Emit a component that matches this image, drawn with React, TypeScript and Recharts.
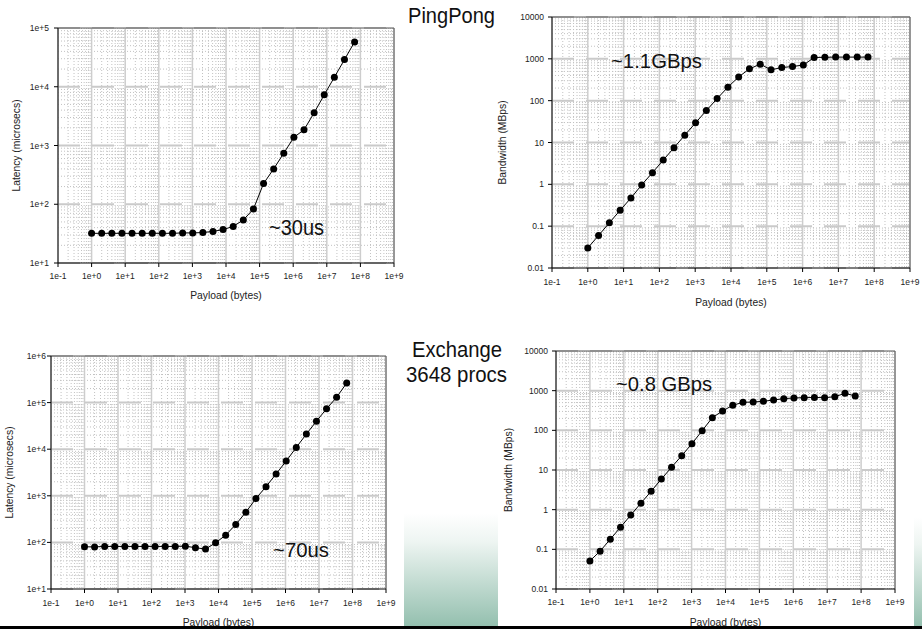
import React from 'react'
import { LineChart, Line, XAxis, YAxis, CartesianGrid } from 'recharts'

// message sizes, 2^0 .. 2^26 bytes
const payloadBytes = [
  1, 2, 4, 8, 16, 32, 64, 128, 256, 512, 1024, 2048, 4096, 8192, 16384, 32768, 65536,
  131072, 262144, 524288, 1048576, 2097152, 4194304, 8388608, 16777216, 33554432, 67108864,
]

const pingPongLatency = [
  32, 32, 32, 32, 32, 32, 32, 32, 32, 32.5, 32.5, 33, 34.5, 37, 42, 54, 83,
  225, 400, 740, 1380, 1850, 3600, 7300, 14500, 29000, 58000,
]
const pingPongBandwidth = [
  0.03, 0.06, 0.12, 0.24, 0.47, 0.97, 1.9, 3.8, 7.5, 15, 29.5, 58, 112, 210, 370, 576, 746,
  546, 620, 655, 710, 1075, 1090, 1100, 1100, 1100, 1100,
]
const exchangeLatency = [
  80.5, 80, 82, 82, 82, 82, 82, 82, 82, 82, 83, 77, 72, 98, 143, 242, 444,
  872, 1573, 2940, 5570, 10900, 21100, 40000, 73400, 130000, 263000,
]
const exchangeBandwidth = [
  0.051, 0.09, 0.18, 0.36, 0.73, 1.46, 2.9, 5.9, 11.7, 23, 46, 98, 209, 308, 428, 508, 518,
  540, 582, 630, 654, 665, 674, 665, 705, 857, 735,
]

const payloadTicks = [0.1, 1, 10, 100, 1e3, 1e4, 1e5, 1e6, 1e7, 1e8, 1e9]
const pingLatencyTicks = [10, 100, 1e3, 1e4, 1e5]
const exchangeLatencyTicks = [10, 100, 1e3, 1e4, 1e5, 1e6]
const bandwidthTicks = [0.01, 0.1, 1, 10, 100, 1000, 10000]

const SANS = "'Liberation Sans', Arial, Helvetica, sans-serif"

const expLabel = (v: number) => {
  const e = Math.round(Math.log10(v))
  return '1e' + (e >= 0 ? '+' : '') + e
}
const plainLabel = (v: number) => String(v)

// 2..9 inside every decade, for the dotted minor grid
const minorOf = (ticks: number[]) =>
  ticks.slice(0, -1).flatMap((d) => [2, 3, 4, 5, 6, 7, 8, 9].map((k) => d * k))

interface PanelProps {
  left: number
  top: number
  width: number
  height: number
  margin: { top: number; right: number; bottom: number; left: number }
  yWidth: number
  xHeight: number
  values: number[]
  yTicks: number[]
  yFormat: (v: number) => string
  yLabel: string
  yLabelOffset: number
  xLabelOffset: number
  xTickMargin: number
  yTickMargin: number
}

function Panel(p: PanelProps) {
  const data = payloadBytes.map((b, i) => ({ bytes: b, value: p.values[i] }))
  const yDomain = [p.yTicks[0], p.yTicks[p.yTicks.length - 1]]
  const tick = { fontSize: 8.5, fill: '#222', fontFamily: SANS }

  return (
    <div style={{ position: 'absolute', left: p.left, top: p.top }}>
      <LineChart width={p.width} height={p.height} data={data} margin={p.margin}>
        <CartesianGrid
          horizontalValues={minorOf(p.yTicks)}
          verticalValues={minorOf(payloadTicks)}
          stroke="#c2c2c2"
          strokeDasharray="1 2"
        />
        <CartesianGrid horizontal={false} verticalValues={payloadTicks} stroke="#cdcdcd" strokeWidth={1.5} />
        <CartesianGrid
          vertical={false}
          horizontalValues={p.yTicks}
          stroke="#cacaca"
          strokeWidth={2}
          strokeDasharray="22 12"
        />
        <CartesianGrid horizontalValues={[yDomain[1]]} verticalValues={[1e9]} stroke="#555" />
        <XAxis
          dataKey="bytes"
          type="number"
          scale="log"
          domain={[0.1, 1e9]}
          ticks={payloadTicks}
          interval={0}
          tickFormatter={expLabel}
          tick={tick}
          tickSize={4}
          tickMargin={p.xTickMargin}
          stroke="#000"
          height={p.xHeight}
          label={{
            value: 'Payload (bytes)',
            position: 'insideBottom',
            offset: p.xLabelOffset,
            style: { fontSize: 10.3, fill: '#222', fontFamily: SANS },
          }}
        />
        <YAxis
          type="number"
          scale="log"
          domain={yDomain}
          ticks={p.yTicks}
          interval={0}
          tickFormatter={p.yFormat}
          tick={tick}
          tickSize={4}
          tickMargin={p.yTickMargin}
          stroke="#000"
          width={p.yWidth}
          label={{
            value: p.yLabel,
            angle: -90,
            position: 'insideLeft',
            offset: p.yLabelOffset,
            style: { fontSize: 10.3, fill: '#222', fontFamily: SANS, textAnchor: 'middle' },
          }}
        />
        <Line
          dataKey="value"
          stroke="#000"
          strokeWidth={1}
          dot={{ r: 3.5, fill: '#000', stroke: '#000', strokeWidth: 0 }}
          isAnimationActive={false}
        />
      </LineChart>
    </div>
  )
}

export default function App() {
  return (
    <div
      style={{
        position: 'absolute',
        left: 0,
        top: 0,
        width: 922,
        height: 629,
        background: '#fff',
        overflow: 'hidden',
      }}
    >
      {/* slide decoration behind the charts */}
      <div
        style={{
          position: 'absolute',
          left: 404,
          top: 513,
          width: 94,
          height: 114,
          background: 'linear-gradient(to bottom, #ffffff 0%, #eef5f2 25%, #93bfae 100%)',
        }}
      />
      <div
        style={{
          position: 'absolute',
          left: 914,
          top: 517,
          width: 8,
          height: 110,
          background: 'linear-gradient(to bottom, #ffffff 0%, #eef5f2 25%, #93bfae 100%)',
        }}
      />

      <Panel
        left={0}
        top={0}
        width={412}
        height={310}
        margin={{ top: 28, right: 18, bottom: 0, left: 0 }}
        yWidth={58}
        xHeight={47}
        values={pingPongLatency}
        yTicks={pingLatencyTicks}
        yFormat={expLabel}
        yLabel="Latency (microsecs)"
        yLabelOffset={16}
        xLabelOffset={11}
        xTickMargin={6}
        yTickMargin={5}
      />
      <Panel
        left={460}
        top={0}
        width={462}
        height={320}
        margin={{ top: 17, right: 12, bottom: 0, left: 0 }}
        yWidth={92}
        xHeight={52}
        values={pingPongBandwidth}
        yTicks={bandwidthTicks}
        yFormat={plainLabel}
        yLabel="Bandwidth (MBps)"
        yLabelOffset={42}
        xLabelOffset={14}
        xTickMargin={7}
        yTickMargin={4}
      />
      <Panel
        left={0}
        top={330}
        width={400}
        height={299}
        margin={{ top: 26, right: 14, bottom: 0, left: 0 }}
        yWidth={51}
        xHeight={40}
        values={exchangeLatency}
        yTicks={exchangeLatencyTicks}
        yFormat={expLabel}
        yLabel="Latency (microsecs)"
        yLabelOffset={9}
        xLabelOffset={3}
        xTickMargin={7}
        yTickMargin={1}
      />
      <Panel
        left={460}
        top={330}
        width={462}
        height={299}
        margin={{ top: 21, right: 27, bottom: 0, left: 0 }}
        yWidth={96}
        xHeight={40}
        values={exchangeBandwidth}
        yTicks={bandwidthTicks}
        yFormat={plainLabel}
        yLabel="Bandwidth (MBps)"
        yLabelOffset={48}
        xLabelOffset={3}
        xTickMargin={6}
        yTickMargin={4}
      />

      {/* slide titles and annotations; the slide font is a narrow sans, so squeeze to the widths seen */}
      <svg
        width={922}
        height={629}
        style={{ position: 'absolute', left: 0, top: 0, pointerEvents: 'none' }}
      >
        <g fontFamily={SANS} fill="#111" lengthAdjust="spacingAndGlyphs">
          <text x={408} y={23} fontSize={22} textLength={87} lengthAdjust="spacingAndGlyphs">PingPong</text>
          <text x={412} y={357} fontSize={22} textLength={90} lengthAdjust="spacingAndGlyphs">Exchange</text>
          <text x={406} y={382} fontSize={22} textLength={101} lengthAdjust="spacingAndGlyphs">3648 procs</text>
          <text x={269} y={235} fontSize={22} textLength={55} lengthAdjust="spacingAndGlyphs">~30us</text>
          <text x={611} y={68} fontSize={21} textLength={91} lengthAdjust="spacingAndGlyphs">~1.1GBps</text>
          <text x={273} y={557} fontSize={21} textLength={56} lengthAdjust="spacingAndGlyphs">~70us</text>
          <text x={616} y={391} fontSize={21} textLength={96} lengthAdjust="spacingAndGlyphs">~0.8 GBps</text>
        </g>
      </svg>

      <div style={{ position: 'absolute', left: 0, top: 626, width: 922, height: 3, background: '#000' }} />
    </div>
  )
}
